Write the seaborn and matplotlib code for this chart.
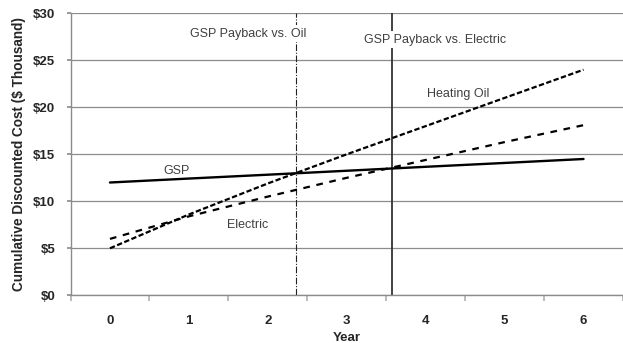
import matplotlib
matplotlib.use("Agg")
import matplotlib.pyplot as plt
import seaborn as sns
import pandas as pd

# Cumulative discounted cost by year ($ thousand)
years = [0, 1, 2, 3, 4, 5, 6]
gsp = [12.0, 12.42, 12.83, 13.25, 13.67, 14.08, 14.5]
heating_oil = [5.0, 8.6, 11.9, 15.0, 18.0, 21.0, 24.0]
electric = [6.0, 8.4, 10.5, 12.5, 14.4, 16.3, 18.1]

# Payback years (where GSP crosses each alternative)
payback_oil = 2.36
payback_electric = 3.57

y_ticks = [0, 5, 10, 15, 20, 25, 30]
y_tick_labels = ["$0", "$5", "$10", "$15", "$20", "$25", "$30"]

sns.set_theme(style="white")
plt.rcParams["font.family"] = ["Liberation Sans", "DejaVu Sans"]

df = pd.DataFrame({"Year": years, "GSP": gsp,
                   "Heating Oil": heating_oil, "Electric": electric})

fig = plt.figure(figsize=(6.23, 3.43), dpi=100)
ax = fig.add_axes([70.5 / 623, 47.7 / 343, 1 - 70.5 / 623, (295.3 - 13.3) / 343])

grid_c = "#8c8c8c"
for v in y_ticks:
    ax.axhline(v, color=grid_c, lw=0.9, zorder=0)

sns.lineplot(data=df, x="Year", y="GSP", ax=ax, color="black", lw=1.7, zorder=3)
sns.lineplot(data=df, x="Year", y="Heating Oil", ax=ax, color="black", lw=1.6, zorder=3)
ax.get_lines()[-1].set_dashes((2.4, 1.1))
sns.lineplot(data=df, x="Year", y="Electric", ax=ax, color="black", lw=1.6, zorder=3)
ax.get_lines()[-1].set_dashes((3.0, 3.0))

ax.axvline(payback_oil, color="#222222", lw=0.8, ls=(0, (6, 1.5, 1, 1.5)), zorder=2)
ax.axvline(payback_electric, color="#333333", lw=1.3, zorder=2)

ax.set_xlim(-0.5, 6.5)
ax.set_ylim(0, 30)
ax.set_yticks(y_ticks)
ax.set_yticklabels(y_tick_labels)
ax.set_xticks(years)
ax.set_xticks([y - 0.5 for y in years] + [6.5], minor=True)

for s in ["top", "right"]:
    ax.spines[s].set_visible(False)
ax.spines["left"].set_color(grid_c)
ax.spines["bottom"].set_color(grid_c)
ax.spines["left"].set_linewidth(1.0)
ax.spines["bottom"].set_linewidth(1.0)

ax.tick_params(axis="y", which="major", left=True, length=3, color=grid_c,
               labelsize=9.5, labelcolor="#262626", pad=8)
ax.tick_params(axis="x", which="major", bottom=False, labelsize=9.5,
               labelcolor="#262626", pad=8)
ax.tick_params(axis="x", which="minor", bottom=True, length=4, width=1.2, color="#b0b0b0")
for lab in ax.get_xticklabels() + ax.get_yticklabels():
    lab.set_fontweight("bold")

ax.set_xlabel("Year", fontsize=9.5, fontweight="bold", color="#262626", labelpad=4)
ax.set_ylabel("Cumulative Discounted Cost ($ Thousand)", fontsize=9.8,
              fontweight="bold", color="#262626", labelpad=5)

txt = dict(fontsize=9, color="#404040", ha="center", va="center", zorder=4)
box = dict(facecolor="white", edgecolor="none", pad=2)
ax.text(1.75, 27.85, "GSP Payback vs. Oil", bbox=box, **txt)
ax.text(4.12, 27.2, "GSP Payback vs. Electric", bbox=box, **txt)
ax.text(0.845, 13.2, "GSP", **txt)
ax.text(1.75, 7.5, "Electric", **txt)
ax.text(4.41, 21.4, "Heating Oil", **txt)

fig.savefig("out.png", dpi=100)
